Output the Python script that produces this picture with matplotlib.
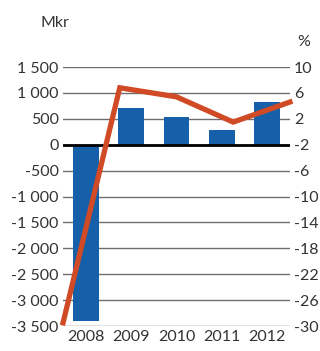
import matplotlib
matplotlib.use("Agg")
import matplotlib.pyplot as plt
import numpy as np

years = ["2008", "2009", "2010", "2011", "2012"]
mkr = [-3400, 700, 540, 280, 820]
pct = [-29.5, 6.8, 5.4, 1.5, 4.6]

left_ticks = [1500, 1000, 500, 0, -500, -1000, -1500, -2000, -2500, -3000, -3500]
left_labels = ["1 500", "1 000", "500", "0", "-500", "-1 000", "-1 500",
               "-2 000", "-2 500", "-3 000", "-3 500"]
right_ticks = [10, 6, 2, -2, -6, -10, -14, -18, -22, -26, -30]

plt.rcParams['font.family'] = ['Lato', 'DejaVu Sans']
plt.rcParams['axes.unicode_minus'] = False
txt = "#333333"

fig = plt.figure(figsize=(3.2, 3.51), dpi=100)
ax = fig.add_axes([0.197, 0.071, 0.709, 0.738])

x = np.arange(len(years))
for t in left_ticks:
    ax.axhline(t, color="#6e6e6e", lw=1.0, zorder=0)
ax.bar(x, mkr, width=0.57, color="#1560a8", zorder=2)
ax.axhline(0, color="black", lw=2, zorder=3)

ax.set_xlim(-0.5, len(years) - 0.5)
ax.set_ylim(-3500, 1500)
ax.set_yticks(left_ticks)
ax.set_yticklabels(left_labels)
ax.set_xticks(x)
ax.set_xticklabels(years)
ax.tick_params(length=0, labelsize=11.5, colors=txt, pad=3)
for s in ax.spines.values():
    s.set_visible(False)

ax2 = ax.twinx()
# line runs from left edge to right edge of plot
lx = np.linspace(-0.5, len(years) - 0.5, len(pct))
ax2.plot(lx, pct, color="#d04a25", lw=3.8, clip_on=False, solid_joinstyle="miter")
ax2.set_ylim(-30, 10)
ax2.set_yticks(right_ticks)
ax2.set_yticklabels([str(t) for t in right_ticks])
ax2.tick_params(length=0, labelsize=11.5, colors=txt, pad=3)
for s in ax2.spines.values():
    s.set_visible(False)

fig.text(0.125, 0.935, "Mkr", fontsize=11.5, color=txt, ha="left", va="center")
fig.text(0.93, 0.88, "%", fontsize=11.5, color=txt, ha="left", va="center")

fig.savefig("out.png", dpi=100)
